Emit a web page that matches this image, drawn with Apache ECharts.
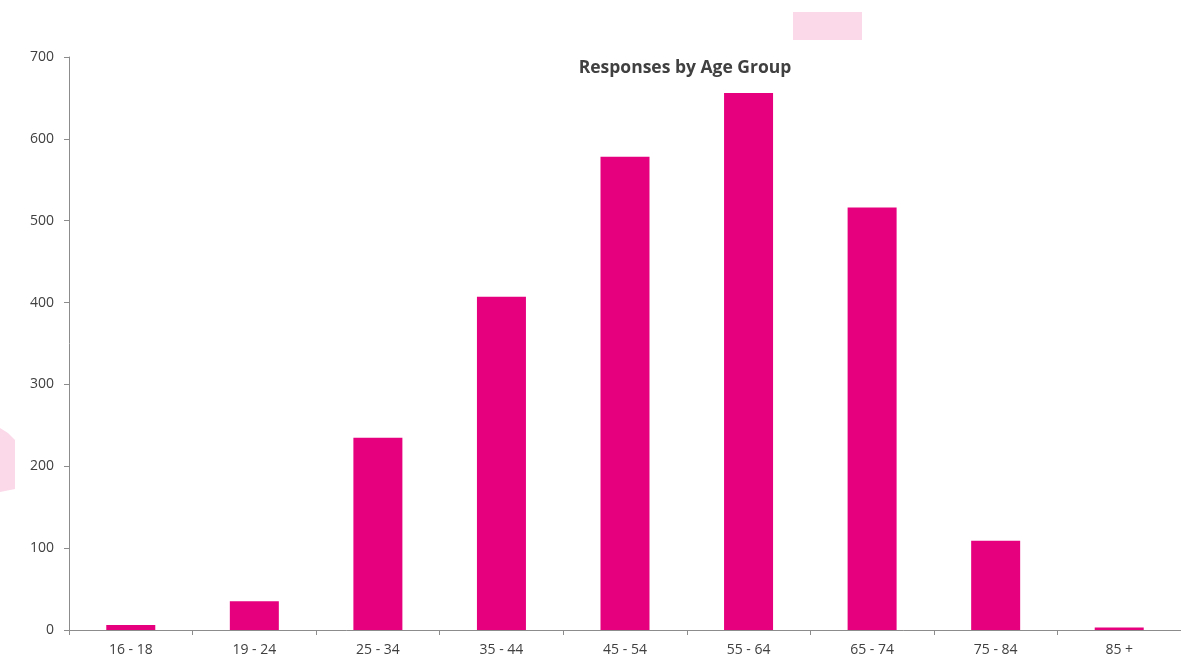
<!DOCTYPE html>
<html><head><meta charset="utf-8">
<script src="https://cdn.jsdelivr.net/npm/echarts@6/dist/echarts.min.js"></script>
<style>html,body{margin:0;padding:0;background:#fff}#c{width:1181px;height:657px}</style>
</head><body><div id="c"></div>
<script>
const categories = ['16 - 18','19 - 24','25 - 34','35 - 44','45 - 54','55 - 64','65 - 74','75 - 84','85 +'];
const responses = [6, 35, 235, 407, 578, 656, 516, 109, 3];
const yTicks = [0, 100, 200, 300, 400, 500, 600, 700];

const chart = echarts.init(document.getElementById('c'));
chart.setOption({
  animation: false,
  title: {
    text: 'Responses by Age Group', left: 680, top: 54, textAlign: 'center',
    textStyle: {fontFamily: 'Open Sans', fontSize: 17.5, fontWeight: 'bold', color: '#404040'}
  },
  graphic: [
    {type: 'rect', shape: {x: 793, y: 12, width: 69, height: 28}, style: {fill: '#fbd9e8'}, z: -1},
    {type: 'polygon', shape: {points: [[0,428],[8,433],[15,440],[15,489],[0,492]]}, style: {fill: '#fbd9e8'}, z: -1}
  ],
  grid: {left: 69, right: -6, top: 57, bottom: 27, containLabel: false},
  xAxis: {
    type: 'category', data: categories,
    axisLine: {lineStyle: {color: '#8c8c8c'}},
    axisTick: {show: true, alignWithLabel: false, length: 5, lineStyle: {color: '#8c8c8c'}},
    axisLabel: {color: '#404040', fontFamily: 'Open Sans', fontSize: 14, margin: 13}
  },
  yAxis: {
    type: 'value', min: yTicks[0], max: yTicks[yTicks.length-1], interval: 100,
    axisLine: {show: true, lineStyle: {color: '#8c8c8c'}},
    axisTick: {show: true, length: 5, lineStyle: {color: '#8c8c8c'}},
    splitLine: {show: false},
    axisLabel: {color: '#404040', fontFamily: 'Open Sans', fontSize: 14, margin: 15}
  },
  series: [{
    type: 'bar', data: responses, barWidth: 49,
    itemStyle: {color: '#E6007E'}
  }]
});
</script></body></html>
